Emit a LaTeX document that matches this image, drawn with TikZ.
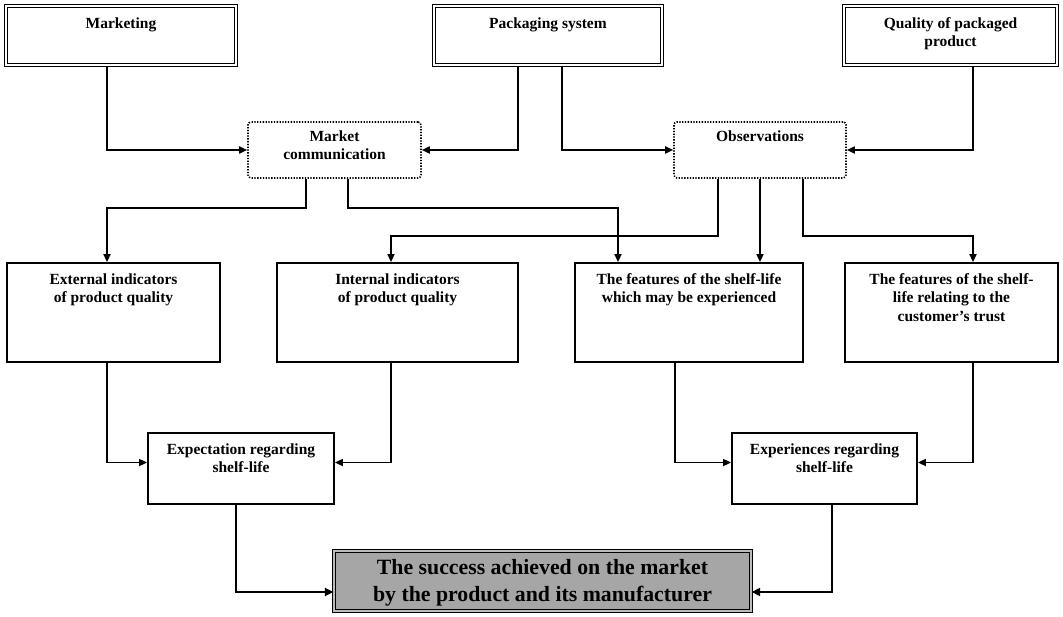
\documentclass[tikz,border=0pt]{standalone}
\usepackage{fontspec}
\setmainfont{Liberation Serif}
\usetikzlibrary{arrows.meta}
\definecolor{succgray}{RGB}{166,166,166}
\tikzset{
  lbl/.style={anchor=north, align=center, inner sep=0pt, font=\bfseries\fontsize{15.5}{18.5}\selectfont},
  biglbl/.style={anchor=north, align=center, inner sep=0pt, font=\bfseries\fontsize{21.8}{27}\selectfont},
  dblbox/.style={draw, line width=1.35pt, double=white, double distance=1.7pt, inner sep=0pt},
  plainbox/.style={draw, line width=1.8pt, inner sep=0pt},
  dotbox/.style={draw, line width=1.6pt, dash pattern=on 1.3pt off 1.5pt, rounded corners=3pt, inner sep=0pt},
  succbox/.style={draw, fill=succgray, line width=1.35pt, double=succgray!75, double distance=1.7pt, inner sep=0pt},
  arr/.style={line width=1.7pt, -{Triangle[length=8pt,width=7pt]}},
  thickarr/.style={line width=2.8pt, -{Triangle[length=8.5pt,width=8pt]}}
}
\begin{document}
\begin{tikzpicture}[x=1pt,y=-1pt]
\useasboundingbox (0,0) rectangle (1063,617);
% top row
\node[dblbox, minimum width=230pt, minimum height=59pt, label={[lbl,yshift=-12pt]north:Marketing}] (mkt) at (121,35.5) {};
\node[dblbox, minimum width=228pt, minimum height=59pt, label={[lbl,yshift=-12pt]north:Packaging system}] (pkg) at (548,35.5) {};
\node[dblbox, minimum width=213pt, minimum height=59pt, label={[lbl,yshift=-12pt]north:{Quality of packaged\\product}}] (qual) at (950.5,35.5) {};
% dotted
\node[dotbox, minimum width=173pt, minimum height=56pt, label={[lbl,yshift=-9pt]north:{Market\\communication}}] (mc) at (334.5,150) {};
\node[dotbox, minimum width=172pt, minimum height=56pt, label={[lbl,yshift=-9pt]north:Observations}] (obs) at (760,150) {};
% middle row
\node[plainbox, minimum width=213pt, minimum height=99pt, label={[lbl,yshift=-11pt]north:{External indicators\\of product quality}}] (ext) at (113.5,312.5) {};
\node[plainbox, minimum width=241pt, minimum height=99pt, label={[lbl,yshift=-11pt]north:{Internal indicators\\of product quality}}] (int) at (397.5,312.5) {};
\node[plainbox, minimum width=228pt, minimum height=99pt, label={[lbl,yshift=-11pt]north:{The features of the shelf-life\\which may be experienced}}] (fexp) at (689,312.5) {};
\node[plainbox, minimum width=213pt, minimum height=99pt, label={[lbl,yshift=-11pt]north:{The features of the shelf-\\life relating to the\\customer's trust}}] (ftr) at (951.5,312.5) {};
% lower row
\node[plainbox, minimum width=186pt, minimum height=71pt, label={[lbl,yshift=-11pt]north:{Expectation regarding\\shelf-life}}] (expt) at (241,468.5) {};
\node[plainbox, minimum width=185pt, minimum height=71pt, label={[lbl,yshift=-11pt]north:{Experiences regarding\\shelf-life}}] (expr) at (824.5,468.5) {};
% success
\node[succbox, minimum width=417pt, minimum height=60pt, label={[biglbl,yshift=-9pt]north:{The success achieved on the market\\by the product and its manufacturer}}] (succ) at (542.5,581) {};
% connectors top
\draw[arr] ([xshift=-14pt]mkt.south) |- (mc.west);
\draw[arr] ([xshift=-30pt]pkg.south) |- (mc.east);
\draw[arr] ([xshift=14pt]pkg.south) |- (obs.west);
\draw[arr] ([xshift=22.5pt]qual.south) |- (obs.east);
% from market communication
\draw[arr] ([xshift=-28.5pt]mc.south) -- ++(0,29) -| ([xshift=-6.5pt]ext.north);
\draw[arr] ([xshift=13.5pt]mc.south) -- ++(0,29) -| ([xshift=-71pt]fexp.north);
% from observations
\draw[arr] ([xshift=-42pt]obs.south) -- ++(0,57) -| ([xshift=-6.5pt]int.north);
\draw[arr] (obs.south) -- (obs.south |- fexp.north);
\draw[arr] ([xshift=43pt]obs.south) -- ++(0,57) -| ([xshift=21.5pt]ftr.north);
% to lower row
\draw[arr] ([xshift=-6.5pt]ext.south) |- ([yshift=6pt]expt.west);
\draw[arr] ([xshift=-6.5pt]int.south) |- ([yshift=6pt]expt.east);
\draw[arr] ([xshift=-14pt]fexp.south) |- ([yshift=6pt]expr.west);
\draw[arr] ([xshift=21.5pt]ftr.south) |- ([yshift=6pt]expr.east);
% to success
\draw[thickarr] ([xshift=-5pt]expt.south) |- ([yshift=-11pt]succ.west);
\draw[thickarr] ([xshift=7.5pt]expr.south) |- ([yshift=-11pt]succ.east);
\end{tikzpicture}
\end{document}
